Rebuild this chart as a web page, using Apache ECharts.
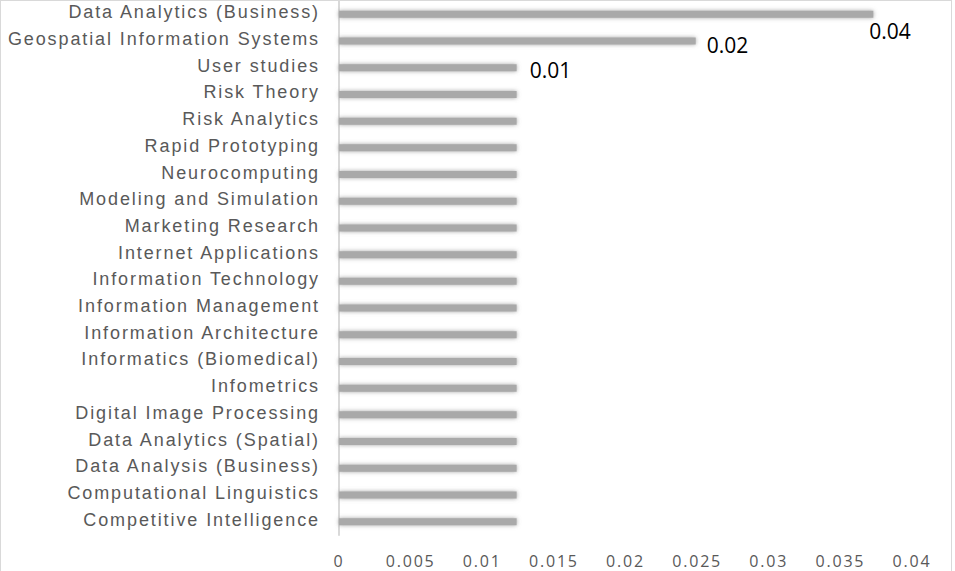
<!DOCTYPE html>
<html>
<head>
<meta charset="utf-8">
<script src="https://cdn.jsdelivr.net/npm/echarts@6/dist/echarts.min.js"></script>
<style>
html,body{margin:0;padding:0;background:#fff;}
#frame{position:absolute;left:0;top:0;width:952px;height:600px;border:1px solid #d9d9d9;box-sizing:border-box;}
#chart{position:absolute;left:0;top:0;width:955px;height:571px;}
#chart svg text[style*="Liberation"]{letter-spacing:1.9px;}
#chart svg text[style*="Open Sans"][fill="#595959"]{letter-spacing:1.8px;}
</style>
</head>
<body>
<div id="frame"></div>
<div id="chart"></div>
<script>
// Categories, bottom to top
const categories = [
  "Competitive Intelligence",
  "Computational Linguistics",
  "Data Analysis (Business)",
  "Data Analytics (Spatial)",
  "Digital Image Processing",
  "Infometrics",
  "Informatics (Biomedical)",
  "Information Architecture",
  "Information Management",
  "Information Technology",
  "Internet Applications",
  "Marketing Research",
  "Modeling and Simulation",
  "Neurocomputing",
  "Rapid Prototyping",
  "Risk Analytics",
  "Risk Theory",
  "User studies",
  "Geospatial Information Systems",
  "Data Analytics (Business)"
];
const values = [
  0.0124, 0.0124, 0.0124, 0.0124, 0.0124, 0.0124, 0.0124, 0.0124, 0.0124, 0.0124,
  0.0124, 0.0124, 0.0124, 0.0124, 0.0124, 0.0124, 0.0124, 0.0124, 0.0249, 0.0373
];
// which bars carry a data label
const showLabel = [
  false, false, false, false, false, false, false, false, false, false,
  false, false, false, false, false, false, false, true, true, true
];
const xTicks = [0, 0.005, 0.01, 0.015, 0.02, 0.025, 0.03, 0.035, 0.04];
const xTickLabels = ["0", "0.005", "0.01", "0.015", "0.02", "0.025", "0.03", "0.035", "0.04"];

// label offsets (style only)
const labelOffsets = { 17: [8, 2], 18: [6, 4], 19: [-9, 17] };

const chart = echarts.init(document.getElementById('chart'), null, {renderer: 'svg'});
const seriesData = values.map((v, i) => {
  const item = { value: v };
  if (showLabel[i]) {
    item.label = {
      show: true,
      position: 'right',
      offset: labelOffsets[i] || [0, 0],
      formatter: p => p.value.toFixed(2),
      color: '#000',
      fontSize: 21,
      fontFamily: 'Open Sans'
    };
  }
  return item;
});

chart.setOption({
  animation: false,
  grid: { left: 339, right: 43, top: 1, bottom: 36, containLabel: false },
  xAxis: {
    type: 'value',
    min: 0, max: 0.04, interval: 0.005,
    axisLine: { show: false },
    axisTick: { show: false },
    splitLine: { show: false },
    axisLabel: {
      margin: 18,
      color: '#595959',
      fontSize: 16,
      fontFamily: 'Open Sans',
      formatter: v => {
        const idx = xTicks.findIndex(t => Math.abs(t - v) < 1e-9);
        return idx >= 0 ? xTickLabels[idx] : '';
      }
    }
  },
  yAxis: {
    type: 'category',
    data: categories,
    axisLine: { show: true, lineStyle: { color: '#d9d9d9', width: 2 } },
    axisTick: { show: false },
    axisLabel: {
      margin: 19,
      color: '#595959',
      fontSize: 18,
      fontFamily: 'Liberation Sans',
      verticalAlign: 'bottom',
      lineHeight: 4
    }
  },
  series: [{
    type: 'bar',
    data: seriesData,
    barWidth: 7,
    itemStyle: {
      color: '#a9a9a9',
      shadowBlur: 4,
      shadowColor: 'rgba(140,140,140,0.8)'
    },
    label: { show: false }
  }]
});
</script>
</body>
</html>
